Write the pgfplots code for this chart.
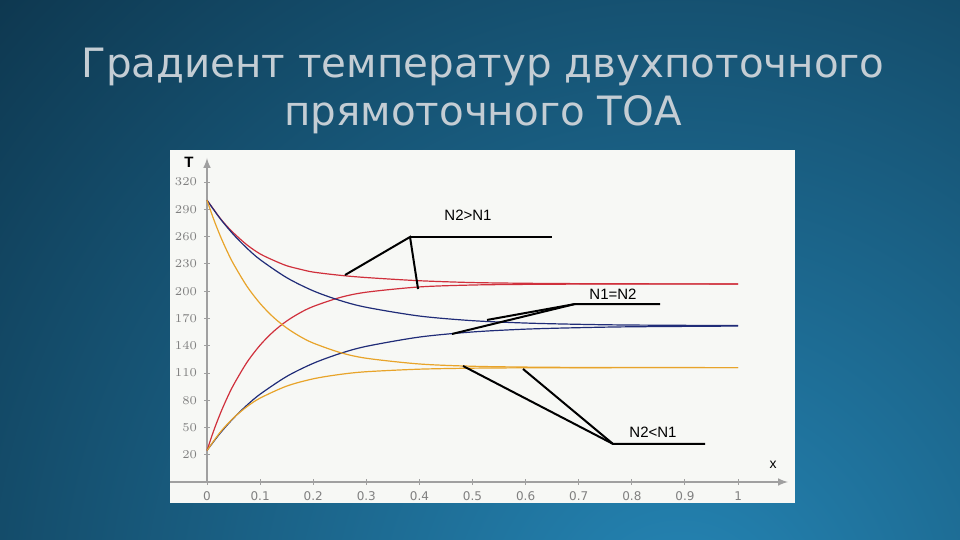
\documentclass[border=0pt]{standalone}
\usepackage{pgfplots}
\pgfplotsset{compat=1.18}
\usepackage{fontspec}
\setmainfont{DejaVu Sans}
\newfontfamily\arialf{Liberation Sans}
\definecolor{bginner}{HTML}{2586B6}
\definecolor{bgouter}{HTML}{0E3850}
\definecolor{titlec}{HTML}{C4CDD4}
\definecolor{boxc}{HTML}{F7F8F5}
\definecolor{cred}{HTML}{D0303C}
\definecolor{cblue}{HTML}{202C78}
\definecolor{corange}{HTML}{E8A42A}
\definecolor{axgray}{HTML}{A0A0A0}
\begin{document}
\begin{tikzpicture}[x=1pt,y=1pt]
\path[use as bounding box] (0,0) rectangle (480,270);
\begin{scope}
\clip (0,0) rectangle (480,270);
\shade[inner color=bginner, outer color=bgouter] (340,-40) circle (460);
\end{scope}
\fill[boxc] (85,18.5) rectangle (397.5,195);
\node[anchor=base, text=titlec, font=\fontsize{20.2}{21}\selectfont, inner sep=0] at (241.5,231.2) {Градиент температур двухпоточного};
\node[anchor=base, text=titlec, font=\fontsize{20.2}{21}\selectfont, inner sep=0] at (241.5,207.2) {прямоточного ТОА};
\begin{axis}[
  at={(103.5pt,29pt)}, anchor=south west,
  scale only axis, width=290.5pt, height=162pt,
  xmin=0, xmax=1.094, ymin=-9.7, ymax=346.4,
  axis lines=left,
  axis line style={draw=axgray, line width=0.7pt, -latex},
  xtick={0,0.1,0.2,0.3,0.4,0.5,0.6,0.7,0.8,0.9,1},
  xticklabels={0,0.1,0.2,0.3,0.4,0.5,0.6,0.7,0.8,0.9,1},
  ytick={20,50,80,110,140,170,200,230,260,290,320},
  tick align=center, major tick length=3pt,
  tick style={draw=axgray, line width=0.5pt},
  ticklabel style={font=\fontsize{6}{6}\selectfont, text=gray},
  clip=false,
]
\addplot[axgray, line width=0.7pt] coordinates {(-0.0697,-9.7) (0,-9.7)};
% N2>N1 (red)
\addplot[cred, line width=0.6pt, smooth] coordinates {
(0,300) (0.0125,290) (0.025,280) (0.0375,271.5) (0.05,264) (0.075,251) (0.1,241) (0.125,234) (0.15,228) (0.175,224.2) (0.2,221) (0.25,217.5) (0.3,215) (0.4,211.5) (0.5,209.5) (0.6,208.7) (0.7,208.3) (0.8,208.1) (1,208)};
\addplot[cred, line width=0.6pt, smooth] coordinates {
(0,25) (0.0125,46.5) (0.025,65.5) (0.0375,82.2) (0.05,97.0) (0.075,121.6) (0.1,140.7) (0.125,155.6) (0.15,167.2) (0.175,176.2) (0.2,183.2) (0.25,193.0) (0.3,198.9) (0.4,204.7) (0.5,206.8) (0.6,207.5) (0.7,207.8) (0.8,207.9) (1,208)};
% N1=N2 (blue)
\addplot[cblue, line width=0.6pt, smooth] coordinates {
(0,300) (0.025,279.6) (0.05,262.2) (0.075,247.4) (0.1,234.7) (0.15,214.9) (0.2,200.4) (0.25,189.9) (0.3,182.3) (0.4,172.7) (0.5,167.6) (0.6,165.0) (0.7,163.6) (0.8,162.8) (1,162.2)};
\addplot[cblue, line width=0.6pt, smooth] coordinates {
(0,25) (0.025,44.1) (0.05,60.5) (0.075,74.6) (0.1,86.8) (0.15,106.3) (0.2,120.7) (0.25,131.4) (0.3,139.4) (0.4,149.6) (0.5,155.2) (0.6,158.3) (0.7,159.9) (0.8,160.9) (1,161.7)};
% N2<N1 (orange)
\addplot[corange, line width=0.6pt, smooth] coordinates {
(0,300) (0.0125,279.2) (0.025,260.7) (0.0375,244.4) (0.05,229.9) (0.075,205.6) (0.1,186.5) (0.125,171.4) (0.15,159.6) (0.175,150.3) (0.2,143.0) (0.25,132.7) (0.3,126.3) (0.4,120.0) (0.5,117.5) (0.6,116.6) (0.7,116.2) (0.8,116.1) (1,116)};
\addplot[corange, line width=0.6pt, smooth] coordinates {
(0,25) (0.025,45.1) (0.05,60.8) (0.075,73.0) (0.1,82.5) (0.15,95.7) (0.2,103.7) (0.25,108.5) (0.3,111.5) (0.4,114.3) (0.5,115.4) (0.6,115.8) (0.7,115.9) (0.8,116) (1,116)};
% annotation leaders
\addplot[black, line width=1pt] coordinates {(0.2599,217.8) (0.3823,259.6) (0.3974,202.4)};
\addplot[black, line width=1pt] coordinates {(0.3823,259.6) (0.6497,259.6)};
\addplot[black, line width=1pt] coordinates {(0.5273,168.4) (0.6930,185.9) (0.8531,185.9)};
\addplot[black, line width=1pt] coordinates {(0.4614,153.0) (0.6930,185.9)};
\addplot[black, line width=1pt] coordinates {(0.4821,117.8) (0.7646,32.1) (0.9379,32.1)};
\addplot[black, line width=1pt] coordinates {(0.5951,114.5) (0.7646,32.1)};
\end{axis}
\node[font=\arialf\bfseries\fontsize{7.5}{8}\selectfont] at (94.5,188.8) {T};
\node[font=\arialf\fontsize{7}{8}\selectfont] at (386.5,37.5) {x};
\node[font=\arialf\fontsize{7.5}{8}\selectfont] at (234,162.5) {N2>N1};
\node[font=\arialf\fontsize{7.5}{8}\selectfont] at (306.5,123) {N1=N2};
\node[font=\arialf\fontsize{7.5}{8}\selectfont] at (326.5,54) {N2<N1};
\end{tikzpicture}
\end{document}
